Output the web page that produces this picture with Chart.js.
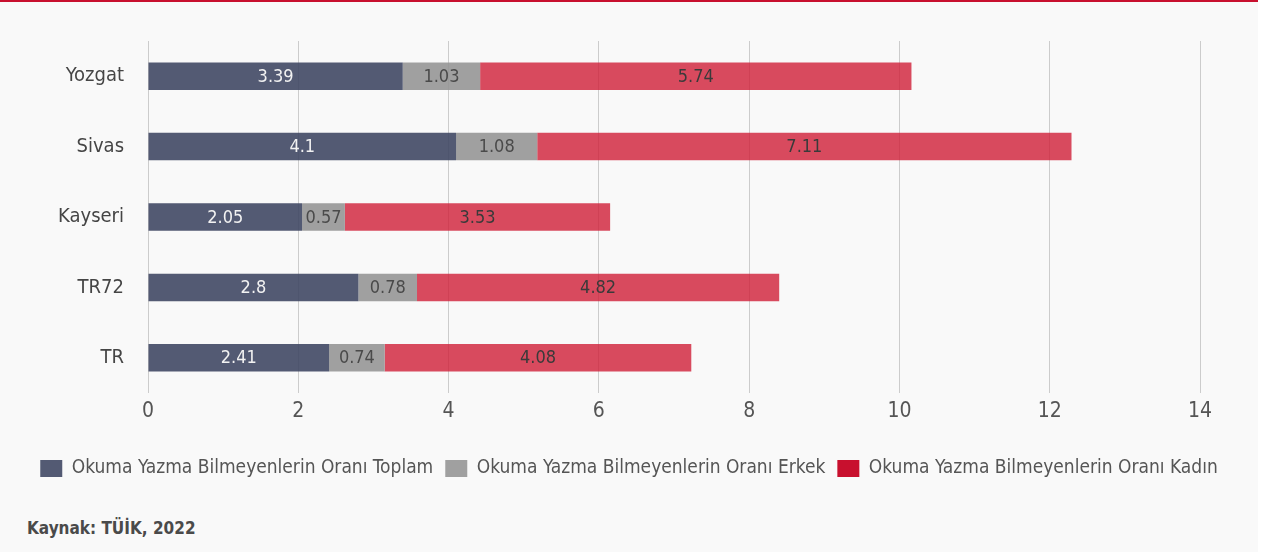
<!DOCTYPE html>
<html>
<head>
<meta charset="utf-8">
<script src="https://cdn.jsdelivr.net/npm/chart.js@4"></script>
<style>
    html, body { margin: 0; padding: 0; background: #ffffff; }
    .wrap {
        position: relative;
        width: 1258px;
        height: 552px;
        background: #f9f9f9;
        border-top: 2px solid #c8102e;
        box-sizing: border-box;
    }
    .chart-box { position: absolute; left: 0; top: 0; width: 1258px; height: 500px; }
    .source {
        position: absolute;
        left: 27px;
        top: 516px;
        font-family: 'Liberation Sans Narrow', 'DejaVu Sans Condensed', sans-serif;
        font-weight: bold;
        font-size: 17px;
        color: #4a4a4a;
    }
</style>
</head>
<body>
<div class="wrap">
    <div class="chart-box"><canvas id="chart"></canvas></div>
    <div class="source">Kaynak: TÜİK, 2022</div>
</div>
<script>
const FONT = "'Liberation Sans Narrow', 'DejaVu Sans Condensed', sans-serif"

const categories = ['Yozgat', 'Sivas', 'Kayseri', 'TR72', 'TR']
const seriesNames = [
    'Okuma Yazma Bilmeyenlerin Oranı Toplam',
    'Okuma Yazma Bilmeyenlerin Oranı Erkek',
    'Okuma Yazma Bilmeyenlerin Oranı Kadın',
]
const toplam = [3.39, 4.1, 2.05, 2.8, 2.41]
const erkek = [1.03, 1.08, 0.57, 0.78, 0.74]
const kadin = [5.74, 7.11, 3.53, 4.82, 4.08]
const xTicks = [0, 2, 4, 6, 8, 10, 12, 14]

const barColors = ['rgba(64, 72, 100, 0.9)', 'rgba(150, 150, 150, 0.9)', 'rgba(208, 30, 55, 0.8)']
const legendColors = ['#535a73', '#a0a0a0', '#c8102e']
const labelColors = ['#f2f2f2', '#4a4a4a', '#3a3a3a']

// draws the value in the middle of every segment
const valueLabels = {
    id: 'valueLabels',
    afterDatasetsDraw(chart) {
        const ctx = chart.ctx
        ctx.save()
        ctx.font = '18px ' + FONT
        ctx.textAlign = 'center'
        ctx.textBaseline = 'middle'
        chart.data.datasets.forEach((ds, i) => {
            chart.getDatasetMeta(i).data.forEach((bar, j) => {
                const p = bar.getProps(['x', 'y', 'base'], true)
                ctx.fillStyle = labelColors[i]
                ctx.fillText(String(ds.data[j]), (p.x + p.base) / 2, p.y + 1)
            })
        })
        ctx.restore()
    }
}

const ctx = document.getElementById('chart').getContext('2d')

new Chart(ctx, {
    type: 'bar',
    data: {
        labels: categories,
        datasets: [toplam, erkek, kadin].map((values, i) => ({
            label: seriesNames[i],
            data: values,
            backgroundColor: barColors[i],
            borderWidth: 0,
            categoryPercentage: 0.39,
            barPercentage: 1,
        })),
    },
    options: {
        indexAxis: 'y',
        responsive: true,
        maintainAspectRatio: false,
        animation: false,
        layout: { padding: { top: 39, right: 0, left: 0, bottom: 14 } },
        scales: {
            x: {
                stacked: true,
                min: 0,
                max: 14,
                afterBuildTicks: (scale) => {
                    scale.ticks = xTicks.map((v) => ({ value: v }))
                },
                afterFit: (scale) => { scale.height = 54 },
                grid: { color: '#cccccc', drawTicks: false },
                border: { display: false },
                ticks: {
                    color: '#555555',
                    font: { family: FONT, size: 21 },
                    padding: 6,
                },
            },
            y: {
                stacked: true,
                afterFit: (scale) => { scale.width = 148 },
                grid: { display: false, drawTicks: false },
                border: { display: false },
                ticks: {
                    color: '#454545',
                    font: { family: FONT, size: 20 },
                    padding: 24,
                },
            },
            // empty right axis, only keeps room on the right of the plot
            yRight: {
                type: 'category',
                position: 'right',
                afterFit: (scale) => { scale.width = 58 },
                grid: { display: false, drawTicks: false },
                border: { display: false },
                ticks: { display: false },
            },
        },
        plugins: {
            legend: {
                display: true,
                position: 'bottom',
                labels: {
                    boxWidth: 22,
                    boxHeight: 17,
                    padding: 12,
                    color: '#555555',
                    font: { family: FONT, size: 19 },
                    generateLabels: (chart) => chart.data.datasets.map((ds, i) => ({
                        text: ds.label,
                        fillStyle: legendColors[i],
                        strokeStyle: legendColors[i],
                        lineWidth: 0,
                        fontColor: '#555555',
                        datasetIndex: i,
                        hidden: false,
                    })),
                },
            },
            tooltip: { enabled: false },
        },
    },
    plugins: [valueLabels],
})
</script>
</body>
</html>
